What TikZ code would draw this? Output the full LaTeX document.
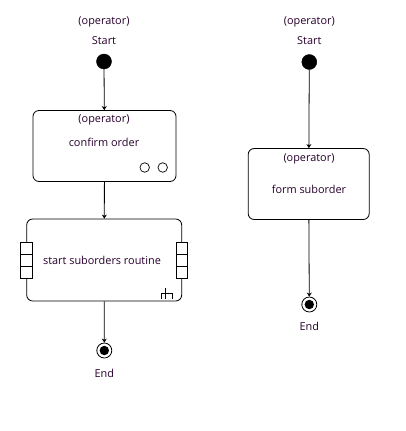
\documentclass[tikz,border=0pt]{standalone}
\usepackage{fontspec}
\setmainfont{Open Sans}
\usetikzlibrary{arrows.meta}
\definecolor{txt}{RGB}{40,0,45}
\begin{document}
\begin{tikzpicture}[x=1pt,y=-1pt,
  lbl/.style={font=\fontsize{10.9}{12}\selectfont, text=txt, inner sep=0pt},
  startdot/.style={circle, fill=black, draw=black, minimum size=15pt, inner sep=0pt},
  endring/.style={circle, draw=black, line width=0.8pt, minimum size=15pt, inner sep=0pt},
  actbox/.style={draw=black, line width=0.8pt, rounded corners=6pt, inner sep=0pt},
  smallring/.style={circle, draw=black, line width=0.7pt, minimum size=9.5pt, inner sep=0pt},
  flow/.style={draw=black, line width=0.8pt, -{Stealth[length=4pt,width=5pt]}},
  pin/.style={draw=black, line width=0.7pt, fill=white}]
\useasboundingbox (0,0) rectangle (405,431);
% ---------- left column ----------
\node[lbl] (op1) at (104,22) {(operator)};
\node[lbl] (st1t) at (104,41) {Start};
\node[startdot] (s1) at (104,61.5) {};
\node[actbox, minimum width=143pt, minimum height=71pt] (b1) at (104.5,146) {};
\node[lbl] (b1op) at (104,120) {(operator)};
\node[lbl] (b1t) at (104,142) {confirm order};
\node[smallring] (r1) at (144.7,167.5) {};
\node[smallring] (r2) at (162.7,167.5) {};
\node[actbox, minimum width=155pt, minimum height=82pt] (b2) at (104.2,260) {};
\node[lbl] (b2t) at (102,260) {start suborders routine};
% pins
\draw[pin] (20.7,242.3) rectangle (32.3,278.3);
\draw[line width=0.7pt] (20.7,254.3) -- (32.3,254.3) (20.7,266.3) -- (32.3,266.3);
\draw[pin] (176,242.3) rectangle (187.7,278.3);
\draw[line width=0.7pt] (176,254.3) -- (187.7,254.3) (176,266.3) -- (187.7,266.3);
% fork symbol
\draw[line width=0.7pt] (165.7,287.7) -- (165.7,299) (161.7,299) -- (161.7,293.3) -- (172.3,293.3) -- (172.3,299);
\node[endring] (e1) at (104.3,350.5) {};
\fill[black] (e1.center) circle (4.7pt);
\node[lbl] (e1t) at (104.3,373) {End};
\draw[flow] (s1) -- (b1);
\draw[flow] (b1) -- (b2);
\draw[flow] (b2) -- (e1);
% ---------- right column ----------
\node[lbl] (op2) at (309.3,22) {(operator)};
\node[lbl] (st2t) at (309.3,41) {Start};
\node[startdot] (s2) at (309.3,62) {};
\node[actbox, minimum width=121pt, minimum height=71pt] (b3) at (308.7,184) {};
\node[lbl] (b3op) at (309,159) {(operator)};
\node[lbl] (b3t) at (309,189) {form suborder};
\node[endring] (e2) at (309.3,304.5) {};
\fill[black] (e2.center) circle (4.7pt);
\node[lbl] (e2t) at (309.3,326.5) {End};
\draw[flow] (s2) -- (b3);
\draw[flow] (b3) -- (e2);
\end{tikzpicture}
\end{document}
